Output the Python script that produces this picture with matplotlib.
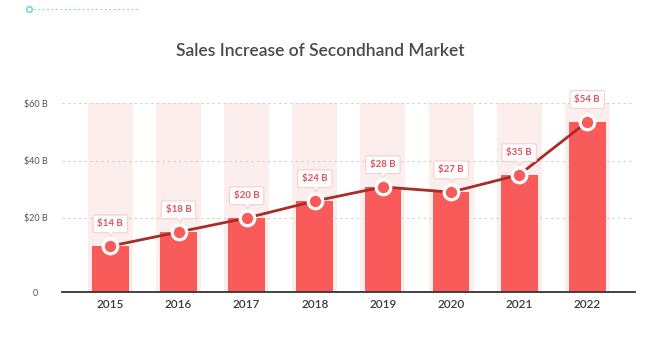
import numpy as np
import matplotlib
matplotlib.use('Agg')
import matplotlib.pyplot as plt
from matplotlib import transforms
from matplotlib.lines import Line2D

plt.rcParams['font.family'] = ['Lato', 'DejaVu Sans']

years = ['2015', '2016', '2017', '2018', '2019', '2020', '2021', '2022']
# values printed in the callouts
sales_labels = [14, 18, 20, 24, 28, 27, 35, 54]
# bar heights as drawn in the picture (the drawing is not exact to its labels)
bar_heights = [12.4, 16.2, 20, 25.9, 30.8, 29.0, 35.0, 53.5]
y_ticks = [0, 20, 40, 60]
y_tick_labels = ['0', '$20 B', '$40 B', '$60 B']

BAR_COLOR = '#f95b5b'
BG_COLOR = '#fdeeee'
LINE_COLOR = '#a82c27'
TEXT_COLOR = '#e0525a'

# axis gaps in the picture are not even: map tick values onto pixel fractions
knots_v = np.array([0, 20, 40, 60])
knots_f = np.array([0, 74, 131.5, 189]) / 189.0 * 60


def fwd(v):
    return np.interp(v, knots_v, knots_f)


def inv(f):
    return np.interp(f, knots_f, knots_v)


fig = plt.figure(figsize=(6.5, 3.4), dpi=100)
ax = fig.add_axes([62 / 650, 48 / 340, 573 / 650, 189 / 340])
ax.set_yscale('function', functions=(fwd, inv))

x = np.arange(len(years))
ax.bar(x, [60] * len(x), width=0.66, color=BG_COLOR, zorder=0)
ax.bar(x, bar_heights, width=0.54, color=BAR_COLOR, zorder=2)

for t in y_ticks[1:]:
    ax.axhline(t, color='#cfcfcf', lw=0.8, ls=(0, (2, 3)), zorder=1)

ax.plot(x, bar_heights, color=LINE_COLOR, lw=2.0, zorder=3,
        marker='o', ms=10.5, mfc=BAR_COLOR, mec='white', mew=2.3, clip_on=False)

# callouts
for xi, h, v in zip(x, bar_heights, sales_labels):
    tri = transforms.offset_copy(ax.transData, fig=fig, x=0, y=9.5, units='points')
    ax.plot(xi, h, marker='v', ms=5, mfc='white', mec='#f5cfcf', mew=0.8,
            transform=tri, zorder=5, clip_on=False)
    ax.annotate('$%d B' % v, (xi, h), xytext=(0, 16), textcoords='offset points',
                ha='center', va='center', fontsize=7, fontweight='bold', color=TEXT_COLOR,
                zorder=6, annotation_clip=False,
                bbox=dict(boxstyle='round,pad=0.45,rounding_size=0.2', fc='white',
                          ec='#f5cfcf', lw=0.8))
    ax.plot(xi, h, marker='v', ms=4, mfc='white', mec='none',
            transform=transforms.offset_copy(ax.transData, fig=fig, x=0, y=10.3, units='points'),
            zorder=7, clip_on=False)

ax.set_xlim(-0.71, 7.70)
ax.set_ylim(0, 60)
ax.set_xticks(x)
ax.set_xticklabels(years, fontsize=8.5, color='#3a3a3a', fontweight='semibold')
ax.set_yticks(y_ticks)
ax.set_yticklabels(y_tick_labels, fontsize=6.5, color='#555555')
for lab in ax.get_yticklabels():
    lab.set_horizontalalignment('center')
ax.tick_params(axis='y', length=0, pad=19)
ax.tick_params(axis='x', length=0, pad=5)

for s in ['top', 'right', 'left']:
    ax.spines[s].set_visible(False)
ax.spines['bottom'].set_color('#333333')
ax.spines['bottom'].set_linewidth(1.3)
ax.spines['bottom'].set_zorder(4)

fig.text(320 / 650, 1 - 51 / 340, 'Sales Increase of Secondhand Market',
         ha='center', va='center', fontsize=12.5, color='#4a4a4a', fontweight='semibold')

# little decoration in the top-left corner
fig.add_artist(Line2D([33 / 650, 140 / 650], [1 - 9 / 340, 1 - 9 / 340],
                      color='#8fe0d4', lw=0.8, ls=(0, (2, 2))))
fig.add_artist(Line2D([29 / 650], [1 - 9 / 340], marker='o', ms=4,
                      mfc='white', mec='#7fd6c8', mew=1.2))

fig.savefig('out.png', dpi=100, facecolor='white')
